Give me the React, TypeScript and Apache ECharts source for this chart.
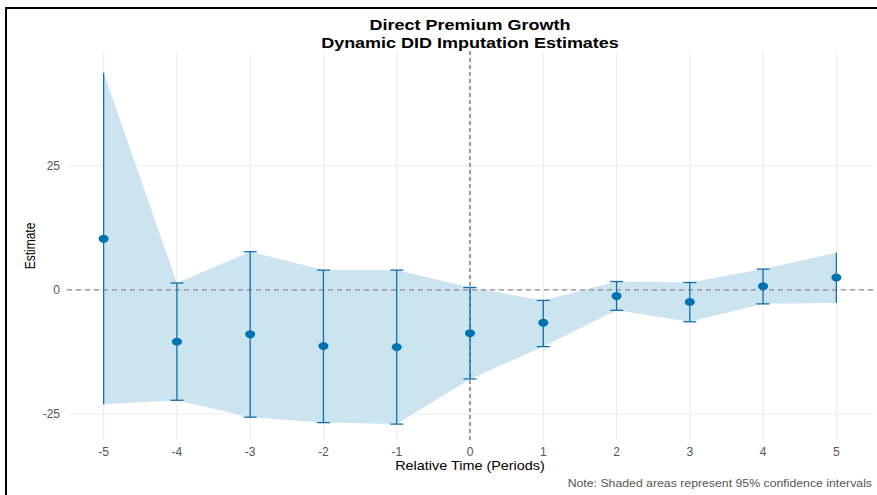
import React, { useEffect, useRef } from "react";
import * as echarts from "echarts";

// Event-study estimates by relative period, with 95% confidence bounds
const periods = [-5, -4, -3, -2, -1, 0, 1, 2, 3, 4, 5];
const estimates = [10.3, -10.4, -8.9, -11.3, -11.5, -8.7, -6.6, -1.2, -2.4, 0.75, 2.5];
const lowerCI = [-23.0, -22.2, -25.6, -26.7, -27.0, -17.9, -11.4, -4.1, -6.4, -2.8, -2.6];
const upperCI = [43.7, 1.4, 7.7, 4.0, 4.0, 0.5, -2.1, 1.7, 1.5, 4.2, 7.5];
const yTicks = [-25, 0, 25];

const BLUE = "#0072B2";
const FONT = "Liberation Sans, Arial, sans-serif";
const SX = 1.2; // horizontal text stretch

export default function App() {
  const ref = useRef<HTMLDivElement>(null);

  useEffect(() => {
    if (!ref.current) return;
    const chart = echarts.init(ref.current, null, { renderer: "svg" });

    const last = periods.length - 1;
    const txt = (x: number, y: number, text: string, extra: any = {}, sx = SX) => ({
      type: "text",
      x,
      y,
      scaleX: sx,
      style: {
        text,
        fontFamily: FONT,
        fill: "#000",
        textAlign: "center",
        textVerticalAlign: "middle",
        ...extra,
      },
    });

    chart.setOption({
      animation: false,
      backgroundColor: "#ffffff",
      grid: { left: 67, right: 4, top: 51, bottom: 55 },
      xAxis: {
        type: "value",
        min: -5.5,
        max: 5.5,
        axisLine: { show: false },
        axisTick: { show: false },
        splitLine: { show: false },
        axisLabel: {
          customValues: periods,
          fontFamily: FONT,
          fontSize: 12,
          color: "#555555",
          margin: 6,
        },
      },
      yAxis: {
        type: "value",
        min: -30.2,
        max: 48.1,
        axisLine: { show: false },
        axisTick: { show: false },
        splitLine: { show: false },
        axisLabel: {
          customValues: yTicks,
          fontFamily: FONT,
          fontSize: 12,
          color: "#555555",
          margin: 7,
        },
      },
      graphic: [
        { type: "line", shape: { x1: 5, y1: 8, x2: 877, y2: 8 }, style: { stroke: "#000", lineWidth: 2 } },
        { type: "line", shape: { x1: 6, y1: 8, x2: 6, y2: 495 }, style: { stroke: "#000", lineWidth: 2 } },
        txt(470, 25, "Direct Premium Growth", { fontWeight: "bold", fontSize: 15 }),
        txt(470, 43, "Dynamic DID Imputation Estimates", { fontWeight: "bold", fontSize: 15 }),
        {
          type: "text", x: 30, y: 246, rotation: Math.PI / 2, scaleY: SX,
          style: { text: "Estimate", fontFamily: FONT, fontSize: 12, fill: "#000", textAlign: "center", textVerticalAlign: "middle" },
        },
        txt(470, 466, "Relative Time (Periods)", { fontSize: 12 }),
        txt(872, 483, "Note: Shaded areas represent 95% confidence intervals", { fontSize: 10, fill: "#555", textAlign: "right" }, 1.23),
      ],
      series: [
        // panel grid lines
        {
          type: "custom",
          z: 0,
          silent: true,
          data: [0],
          renderItem: (params: any, api: any) => {
            const cs = params.coordSys;
            const style = { stroke: "#ebebeb", lineWidth: 1 };
            const children: any[] = [];
            periods.forEach((p) => {
              const c = api.coord([p, 0]);
              children.push({ type: "line", shape: { x1: c[0], y1: cs.y, x2: c[0], y2: cs.y + cs.height }, style });
            });
            yTicks.forEach((t) => {
              const c = api.coord([0, t]);
              children.push({ type: "line", shape: { x1: cs.x, y1: c[1], x2: cs.x + cs.width, y2: c[1] }, style });
            });
            return { type: "group", children };
          },
        },
        // confidence ribbon
        {
          type: "custom",
          z: 1,
          silent: true,
          data: [0],
          renderItem: (params: any, api: any) => {
            const pts: number[][] = [];
            periods.forEach((p, i) => pts.push(api.coord([p, upperCI[i]])));
            for (let i = last; i >= 0; i--) pts.push(api.coord([periods[i], lowerCI[i]]));
            return { type: "polygon", shape: { points: pts }, style: { fill: "#cce3f0" } };
          },
        },
        // reference lines at zero
        {
          type: "custom",
          z: 2,
          silent: true,
          data: [0],
          renderItem: (params: any, api: any) => {
            const cs = params.coordSys;
            const o = api.coord([0, 0]);
            return {
              type: "group",
              children: [
                {
                  type: "line",
                  shape: { x1: cs.x, y1: o[1], x2: cs.x + cs.width, y2: o[1] },
                  style: { stroke: "#8c8c8c", lineWidth: 1.3, lineDash: [5, 4] },
                },
                {
                  type: "line",
                  shape: { x1: o[0], y1: cs.y, x2: o[0], y2: cs.y + cs.height },
                  style: { stroke: "#444444", lineWidth: 1, lineDash: [4, 3] },
                },
              ],
            };
          },
        },
        // error bars
        {
          type: "custom",
          z: 3,
          silent: true,
          data: periods.map((p, i) => [p, lowerCI[i], upperCI[i]]),
          renderItem: (params: any, api: any) => {
            const x = api.value(0);
            const lo = api.coord([x, api.value(1)]);
            const hi = api.coord([x, api.value(2)]);
            const style = { stroke: "#1170ab", lineWidth: 1.3 };
            const children: any[] = [
              { type: "line", shape: { x1: lo[0], y1: lo[1], x2: hi[0], y2: hi[1] }, style },
            ];
            if (params.dataIndex !== 0 && params.dataIndex !== last) {
              const w = 6.5;
              children.push(
                { type: "line", shape: { x1: lo[0] - w, y1: lo[1], x2: lo[0] + w, y2: lo[1] }, style },
                { type: "line", shape: { x1: hi[0] - w, y1: hi[1], x2: hi[0] + w, y2: hi[1] }, style }
              );
            }
            return { type: "group", children };
          },
        },
        // point estimates
        {
          type: "scatter",
          z: 4,
          silent: true,
          symbol: "circle",
          symbolSize: [10, 8],
          itemStyle: { color: BLUE, opacity: 1 },
          data: periods.map((p, i) => [p, estimates[i]]),
        },
      ],
    });

    return () => chart.dispose();
  }, []);

  return (
    <div
      ref={ref}
      style={{ position: "fixed", left: 0, top: 0, width: 877, height: 495 }}
    />
  );
}
